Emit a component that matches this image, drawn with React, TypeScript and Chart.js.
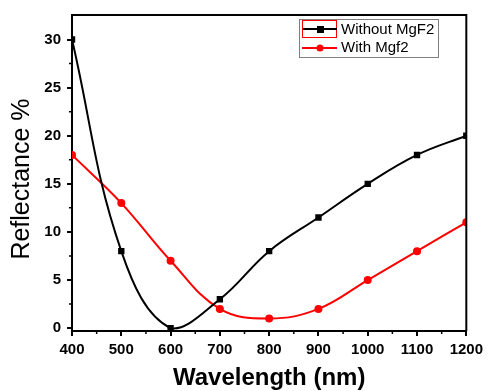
import React, { useEffect, useRef } from "react";
import { Chart, registerables } from "chart.js";

Chart.register(...registerables);

const wavelengths = [400, 500, 600, 700, 800, 900, 1000, 1100, 1200];
const withoutMgF2 = [30, 8, 0, 3, 8, 11.5, 15, 18, 20];
const withMgf2 = [18, 13, 7, 2, 1, 2, 5, 8, 11];
const seriesNames = ["Without MgF2", "With Mgf2"];
const yTicks = [0, 5, 10, 15, 20, 25, 30];
const yMinorTicks = [2.5, 7.5, 12.5, 17.5, 22.5, 27.5];
const xMinorTicks = [450, 550, 650, 750, 850, 950, 1050, 1150];
const xTitle = "Wavelength (nm)";
const yTitle = "Reflectance %";

const decorPlugin = {
  id: "decor",
  afterDraw(chart: any) {
    const { ctx, chartArea, scales } = chart;
    const { left, right, top, bottom } = chartArea;
    ctx.save();
    ctx.strokeStyle = "#000";
    ctx.lineWidth = 2;
    ctx.beginPath();
    ctx.moveTo(left, top);
    ctx.lineTo(right, top);
    ctx.lineTo(right, bottom);
    ctx.stroke();
    ctx.lineWidth = 1.5;
    ctx.beginPath();
    for (const v of xMinorTicks) {
      const px = scales.x.getPixelForValue(v);
      ctx.moveTo(px, bottom);
      ctx.lineTo(px, bottom + 3);
    }
    for (const v of yMinorTicks) {
      const py = scales.y.getPixelForValue(v);
      ctx.moveTo(left, py);
      ctx.lineTo(left - 3, py);
    }
    ctx.stroke();

    ctx.fillStyle = "#000";
    ctx.font = "bold 24px 'Liberation Sans', Arial, sans-serif";
    ctx.textAlign = "center";
    ctx.textBaseline = "alphabetic";
    ctx.fillText(xTitle, (left + right) / 2, 385);
    ctx.save();
    ctx.translate(22.5, 179);
    ctx.rotate(-Math.PI / 2);
    ctx.font = "25px 'Liberation Sans', Arial, sans-serif";
    ctx.textBaseline = "middle";
    ctx.fillText(yTitle, 0, 0);
    ctx.restore();

    ctx.strokeStyle = "#7f7f7f";
    ctx.lineWidth = 1;
    ctx.strokeRect(299.5, 19.5, 139, 38);
    ctx.strokeStyle = "#ff0000";
    ctx.strokeRect(302.5, 20.5, 34, 17);
    ctx.lineWidth = 2;
    ctx.strokeStyle = "#000";
    ctx.beginPath();
    ctx.moveTo(303, 29);
    ctx.lineTo(337, 29);
    ctx.stroke();
    ctx.fillStyle = "#000";
    ctx.fillRect(317, 26, 7, 7);
    ctx.strokeStyle = "#ff0000";
    ctx.beginPath();
    ctx.moveTo(302, 48);
    ctx.lineTo(337, 48);
    ctx.stroke();
    ctx.fillStyle = "#ff0000";
    ctx.beginPath();
    ctx.arc(320, 48, 3.5, 0, Math.PI * 2);
    ctx.fill();
    ctx.fillStyle = "#000";
    ctx.font = "15px 'Liberation Sans', Arial, sans-serif";
    ctx.textAlign = "left";
    ctx.textBaseline = "middle";
    ctx.fillText(seriesNames[0], 341, 30);
    ctx.fillText(seriesNames[1], 341, 48);
    ctx.restore();
  },
};

export default function App() {
  const ref = useRef<HTMLCanvasElement | null>(null);
  useEffect(() => {
    document.body.style.margin = "0";
    const canvas = ref.current;
    if (!canvas) return;
    const tickFont = { family: "'Liberation Sans', Arial, sans-serif", size: 15, weight: "bold" as const };
    const chart = new Chart(canvas, {
      type: "line",
      data: {
        datasets: [
          {
            label: seriesNames[0],
            data: wavelengths.map((x, i) => ({ x, y: withoutMgF2[i] })),
            borderColor: "#000",
            backgroundColor: "#000",
            borderWidth: 2,
            pointStyle: "rect",
            pointRadius: 4.5,
            pointBorderWidth: 0,
            tension: 0.4,
          },
          {
            label: seriesNames[1],
            data: wavelengths.map((x, i) => ({ x, y: withMgf2[i] })),
            borderColor: "#ff0000",
            backgroundColor: "#ff0000",
            borderWidth: 2,
            pointStyle: "circle",
            pointRadius: 4,
            pointBorderWidth: 0,
            tension: 0.4,
          },
        ],
      },
      options: {
        animation: false,
        responsive: true,
        maintainAspectRatio: false,
        layout: { padding: { top: 9, right: 17, left: 0, bottom: 0 } },
        plugins: { legend: { display: false }, tooltip: { enabled: false } },
        scales: {
          x: {
            type: "linear",
            min: 400,
            max: 1200,
            afterFit: (s: any) => {
              s.height = 60;
            },
            ticks: {
              stepSize: 100,
              color: "#000",
              font: tickFont,
              padding: 5,
              maxRotation: 0,
              callback: (v: any) => String(v),
            },
            grid: { drawOnChartArea: false, drawTicks: true, tickLength: 5, color: "#000", lineWidth: 2 },
            border: { display: true, color: "#000", width: 2 },
          },
          y: {
            type: "linear",
            min: -0.3,
            max: 32.55,
            afterFit: (s: any) => {
              s.width = 72;
            },
            afterBuildTicks: (s: any) => {
              s.ticks = yTicks.map((v) => ({ value: v }));
            },
            ticks: { color: "#000", font: tickFont, padding: 6, callback: (v: any) => String(v) },
            grid: { drawOnChartArea: false, drawTicks: true, tickLength: 5, color: "#000", lineWidth: 2 },
            border: { display: true, color: "#000", width: 2 },
          },
        },
      },
      plugins: [decorPlugin],
    });
    return () => chart.destroy();
  }, []);
  return (
    <div style={{ width: 488, height: 391, position: "relative" }}>
      <canvas ref={ref} />
    </div>
  );
}
